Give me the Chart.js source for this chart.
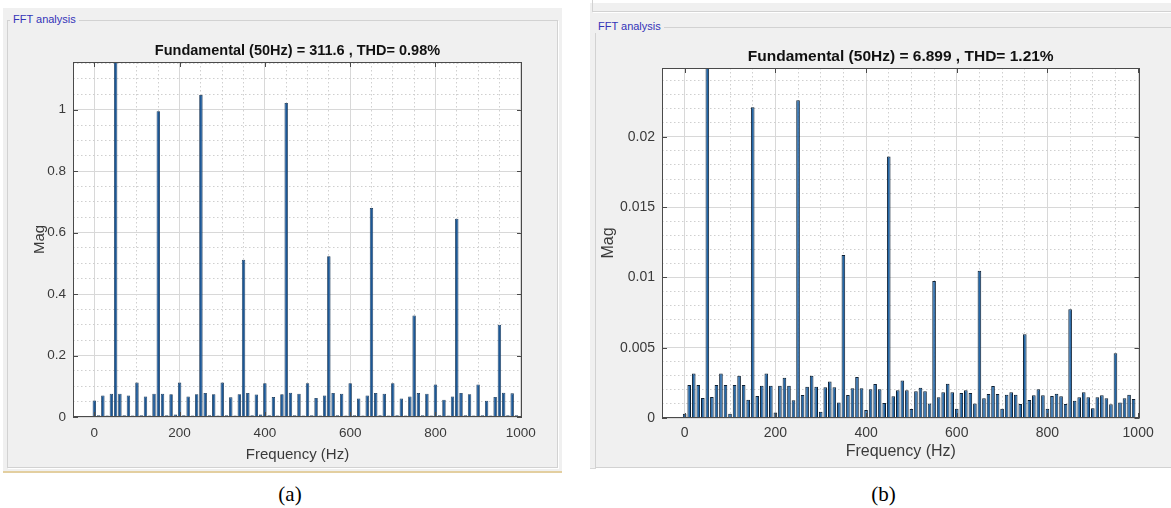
<!DOCTYPE html>
<html>
<head>
<meta charset="utf-8">
<script src="https://cdn.jsdelivr.net/npm/chart.js@4.4.1/dist/chart.umd.min.js"></script>
<style>
  html, body { margin: 0; padding: 0; background: #fff; }
  body { width: 1171px; height: 508px; position: relative; overflow: hidden; font-family: "Liberation Sans", Arial, sans-serif; }
  .panel { position: absolute; background: #f0f0f0; }
  #panelA { left: 3px; top: 8px; width: 559px; height: 463px; border-bottom: 2px solid #e3cfa0; }
  #panelB { left: 590px; top: 3px; width: 581px; height: 465px; border-bottom: 1px solid #d8d8d8; }
  .group { position: absolute; border: 1px solid #d2d2d2; box-shadow: 1px 1px 0 #fff; }
  .legend { position: absolute; background: #f0f0f0; color: #3434b8; font-size: 11px; line-height: 13px; padding: 0 3px; }
  .sub { position: absolute; top: 482px; text-align: center; font-family: "Liberation Serif", "Times New Roman", serif; font-size: 21px; color: #000; }
  canvas { position: absolute; }
</style>
</head>
<body>
<div class="panel" id="panelA"></div>
<div class="panel" id="panelB"></div>

<div class="group" style="left:7px; top:20px; width:549px; height:446px;"></div>
<div class="legend" style="left:10px; top:13px;">FFT analysis</div>

<div class="group" style="left:592px; top:-10px; width:600px; height:20px;"></div>
<div class="group" style="left:595px; top:27px; width:600px; height:439px;"></div>
<div class="legend" style="left:595px; top:20px;">FFT analysis</div>

<canvas id="chartA" width="545" height="443" style="left:10px; top:22px;"></canvas>
<canvas id="chartB" width="570" height="436" style="left:597px; top:30px;"></canvas>

<div class="sub" style="left:0px; width:580px;">(a)</div>
<div class="sub" style="left:593px; width:581px;">(b)</div>

<script>
// frequency bins (Hz)
const freqs = [
  0, 10, 20, 30, 40, 50, 60, 70, 80, 90,
  100, 110, 120, 130, 140, 150, 160, 170, 180, 190,
  200, 210, 220, 230, 240, 250, 260, 270, 280, 290,
  300, 310, 320, 330, 340, 350, 360, 370, 380, 390,
  400, 410, 420, 430, 440, 450, 460, 470, 480, 490,
  500, 510, 520, 530, 540, 550, 560, 570, 580, 590,
  600, 610, 620, 630, 640, 650, 660, 670, 680, 690,
  700, 710, 720, 730, 740, 750, 760, 770, 780, 790,
  800, 810, 820, 830, 840, 850, 860, 870, 880, 890,
  900, 910, 920, 930, 940, 950, 960, 970, 980, 990
];

// panel (a) magnitudes, fundamental 311.6 is off the top of the axes
const magA = [
  0.054, 0.006, 0.070, 0.005, 0.076, 311.6, 0.076, 0.006, 0.070, 0.005,
  0.112, 0.006, 0.067, 0.005, 0.076, 0.995, 0.076, 0.006, 0.074, 0.008,
  0.112, 0.006, 0.067, 0.005, 0.074, 1.048, 0.078, 0.006, 0.074, 0.005,
  0.112, 0.006, 0.064, 0.005, 0.074, 0.512, 0.078, 0.006, 0.073, 0.008,
  0.110, 0.006, 0.065, 0.005, 0.074, 1.022, 0.079, 0.006, 0.076, 0.005,
  0.110, 0.006, 0.062, 0.005, 0.070, 0.523, 0.078, 0.006, 0.076, 0.005,
  0.110, 0.006, 0.060, 0.005, 0.070, 0.680, 0.078, 0.006, 0.076, 0.005,
  0.110, 0.006, 0.060, 0.005, 0.067, 0.330, 0.078, 0.006, 0.076, 0.005,
  0.106, 0.006, 0.056, 0.005, 0.067, 0.645, 0.078, 0.006, 0.074, 0.005,
  0.106, 0.006, 0.053, 0.005, 0.065, 0.300, 0.079, 0.006, 0.077, 0.006
];

// panel (b) magnitudes, fundamental 6.899 is off the top of the axes
const magB = [
  0.0003, 0.00235, 0.00316, 0.00235, 0.00142, 6.899, 0.0015, 0.00235, 0.00316, 0.00235,
  0.0003, 0.00235, 0.0030, 0.00235, 0.0013, 0.0221, 0.00157, 0.0023, 0.00316, 0.0023,
  0.0004, 0.0023, 0.00287, 0.0023, 0.00126, 0.0226, 0.00164, 0.00223, 0.0030, 0.00223,
  0.00045, 0.00218, 0.0026, 0.00218, 0.0011, 0.0116, 0.00164, 0.00211, 0.00292, 0.00211,
  0.00057, 0.00204, 0.00242, 0.00204, 0.00107, 0.0186, 0.00155, 0.00197, 0.00266, 0.00197,
  0.00064, 0.0019, 0.00216, 0.0019, 0.00104, 0.00975, 0.00147, 0.00183, 0.00244, 0.00183,
  0.00066, 0.00178, 0.00197, 0.00178, 0.00104, 0.01048, 0.0014, 0.00171, 0.00228, 0.00171,
  0.00066, 0.00166, 0.00183, 0.00166, 0.0010, 0.00595, 0.00128, 0.00161, 0.00204, 0.00161,
  0.00066, 0.00157, 0.00173, 0.00154, 0.0010, 0.00773, 0.00123, 0.00147, 0.00183, 0.00147,
  0.00069, 0.00147, 0.00161, 0.0014, 0.00097, 0.0046, 0.00111, 0.0014, 0.00166, 0.00135
];

const xMajor = 200;
const titleA = 'Fundamental (50Hz) = 311.6 , THD= 0.98%';
const titleB = 'Fundamental (50Hz) = 6.899 , THD= 1.21%';

const FONT = '"Liberation Sans", Arial, sans-serif';
Chart.defaults.font.family = FONT;

function isMultiple(v, step) {
  const r = v / step;
  return Math.abs(r - Math.round(r)) < 1e-6;
}

// white plot background + MATLAB style box with inward ticks
const boxPlugin = {
  id: 'matlabBox',
  beforeDraw(chart) {
    const { ctx, chartArea: a } = chart;
    ctx.save();
    ctx.fillStyle = '#ffffff';
    ctx.fillRect(a.left, a.top, a.right - a.left, a.bottom - a.top);
    ctx.restore();
  },
  afterDraw(chart, args, opts) {
    const { ctx, chartArea: a, scales } = chart;
    const x = scales.x, y = scales.y;
    ctx.save();
    ctx.strokeStyle = '#4a4a4a';
    ctx.lineWidth = 1;
    ctx.beginPath();
    x.ticks.forEach(t => {
      if (t.value >= 0 && isMultiple(t.value, xMajor)) {
        const p = Math.round(x.getPixelForValue(t.value)) + 0.5;
        ctx.moveTo(p, a.bottom); ctx.lineTo(p, a.bottom - 5);
        ctx.moveTo(p, a.top); ctx.lineTo(p, a.top + 5);
      }
    });
    y.ticks.forEach(t => {
      if (isMultiple(t.value, opts.yMajor)) {
        const p = Math.round(y.getPixelForValue(t.value)) + 0.5;
        ctx.moveTo(a.left, p); ctx.lineTo(a.left + 5, p);
        ctx.moveTo(a.right, p); ctx.lineTo(a.right - 5, p);
      }
    });
    ctx.stroke();
    ctx.strokeRect(Math.round(a.left) + 0.5, Math.round(a.top) + 0.5,
      Math.round(a.right - a.left) - 1, Math.round(a.bottom - a.top) - 1);
    ctx.restore();
  }
};

function makeChart(id, values, o) {
  const tickColor = '#3a3a3a';
  const gridColor = major => c => (c.tick && isMultiple(c.tick.value, major)) ? '#d8d8d8' : '#cfcfcf';
  const gridDash = major => c => (c.tick && !isMultiple(c.tick.value, major)) ? [1.5, 2.5] : [];
  return new Chart(document.getElementById(id), {
    type: 'bar',
    data: {
      labels: freqs,
      datasets: [{
        data: values,
        backgroundColor: o.fill,
        borderColor: o.edge,
        borderWidth: o.edgeWidth,
        barPercentage: o.barPct,
        categoryPercentage: 1
      }]
    },
    plugins: [boxPlugin],
    options: {
      responsive: false,
      animation: false,
      events: [],
      layout: { padding: { left: 0, top: 0, right: o.padRight, bottom: 0 } },
      plugins: {
        legend: { display: false },
        tooltip: { enabled: false },
        matlabBox: { yMajor: o.yMajor },
        title: {
          display: true,
          text: o.title,
          fullSize: false,
          color: '#111111',
          font: { size: o.titleSize, weight: 'bold' },
          padding: { top: o.titleTop, bottom: o.titleBottom }
        }
      },
      scales: {
        x: {
          type: 'linear',
          min: -50,
          max: 1003,
          offset: false,
          afterFit: s => { s.height = o.xAxisHeight; },
          grid: { offset: false, drawTicks: false, color: gridColor(xMajor), lineWidth: 1 },
          border: { display: false, dash: gridDash(xMajor) },
          ticks: {
            stepSize: 50,
            autoSkip: false,
            includeBounds: false,
            maxRotation: 0,
            padding: o.xTickPad,
            color: tickColor,
            font: { size: o.tickSize },
            callback: v => (v >= 0 && isMultiple(v, xMajor)) ? String(v) : ''
          },
          title: {
            display: true,
            text: 'Frequency (Hz)',
            color: tickColor,
            font: { size: o.labelSize },
            padding: { top: 0, bottom: o.xTitlePad }
          }
        },
        y: {
          min: 0,
          max: o.yMax,
          afterFit: s => { s.width = o.yAxisWidth; },
          grid: { drawTicks: false, color: gridColor(o.yMajor), lineWidth: 1 },
          border: { display: false, dash: gridDash(o.yMajor) },
          ticks: {
            stepSize: o.yStep,
            autoSkip: false,
            includeBounds: false,
            padding: 7,
            color: tickColor,
            font: { size: o.tickSize },
            callback: v => isMultiple(v, o.yMajor) ? String(parseFloat(v.toFixed(4))) : ''
          },
          title: {
            display: true,
            text: 'Mag',
            color: tickColor,
            font: { size: o.labelSize },
            padding: { top: o.yTitlePad, bottom: 0 }
          }
        }
      }
    }
  });
}

makeChart('chartA', magA, {
  title: titleA, titleSize: 14.5, titleTop: 20.5, titleBottom: 2.1,
  tickSize: 13.5, labelSize: 15,
  padRight: 33, yAxisWidth: 63, xAxisHeight: 48, xTickPad: 8, xTitlePad: 1, yTitlePad: 21,
  yMax: 1.155, yStep: 0.05, yMajor: 0.2,
  fill: '#1b5796', edge: '#12304f', edgeWidth: 0.8, barPct: 0.8
});

makeChart('chartB', magB, {
  title: titleB, titleSize: 15.5, titleTop: 17.7, titleBottom: 1.7,
  tickSize: 14, labelSize: 16,
  padRight: 27.5, yAxisWidth: 65, xAxisHeight: 48, xTickPad: 7, xTitlePad: 4.4, yTitlePad: 2.4,
  yMax: 0.0249, yStep: 0.001, yMajor: 0.005,
  fill: '#2367a8', edge: '#0e2033', edgeWidth: 1, barPct: 0.8
});
</script>
</body>
</html>
